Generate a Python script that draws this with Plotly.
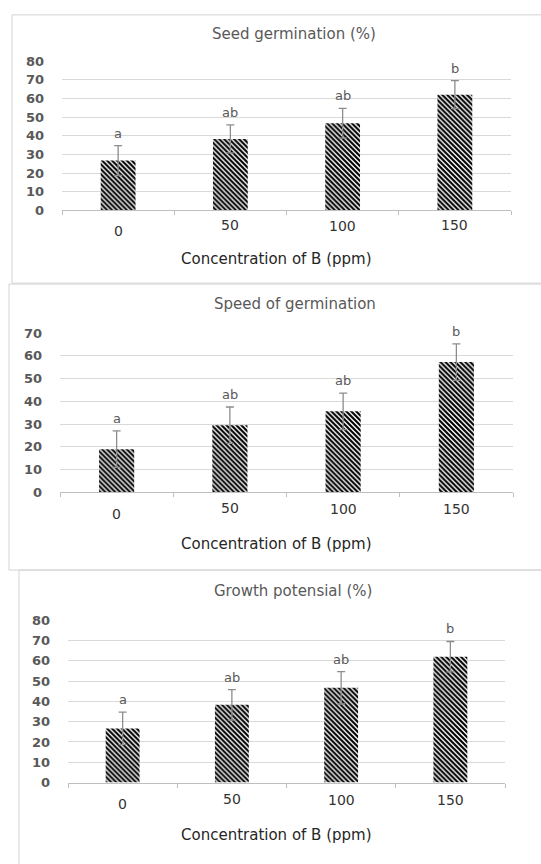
import plotly.graph_objects as go

# Boron concentration treatments (ppm)
concentrations = ["0", "50", "100", "150"]

# Seed germination (%)
seed_germination = [26.7, 38.3, 46.7, 62.0]
seed_germination_err = [8.0, 7.5, 8.0, 7.5]
seed_germination_letters = ["a", "ab", "ab", "b"]

# Speed of germination
germination_speed = [19.0, 29.5, 35.6, 57.2]
germination_speed_err = [8.0, 8.0, 8.0, 8.0]
germination_speed_letters = ["a", "ab", "ab", "b"]

# Growth potensial (%)
growth_potential = [26.7, 38.3, 46.7, 62.0]
growth_potential_err = [8.0, 7.5, 8.0, 7.5]
growth_potential_letters = ["a", "ab", "ab", "b"]

y_ticks_80 = [0, 10, 20, 30, 40, 50, 60, 70, 80]
y_ticks_70 = [0, 10, 20, 30, 40, 50, 60, 70]

W, H = 541, 864


def px_x(v):
    return v / W


def px_y(v):
    return 1 - v / H


panels = [
    dict(title="Seed germination (%)", values=seed_germination, err=seed_germination_err,
         letters=seed_germination_letters, ymax=80, ticks=y_ticks_80,
         plot=(62, 511, 55, 207), box=(12, 8, 560, 281), title_xy=(294, 27),
         xtitle_xy=(276, 256), drops=[21, 15, 16, 15]),
    dict(title="Speed of germination", values=germination_speed, err=germination_speed_err,
         letters=germination_speed_letters, ymax=70, ticks=y_ticks_70,
         plot=(60, 513, 331.7, 494), box=(9, 282, 560, 573), title_xy=(295, 302),
         xtitle_xy=(276, 546), drops=[22, 16, 17, 17]),
    dict(title="Growth potensial (%)", values=growth_potential, err=growth_potential_err,
         letters=growth_potential_letters, ymax=80, ticks=y_ticks_80,
         plot=(68, 505, 624, 789.3), box=(19, 573, 560, 880), title_xy=(293, 594),
         xtitle_xy=(276, 843), drops=[22, 16.5, 18, 17.5]),
]

fig = go.Figure()
shapes = []
annotations = []
layout = {}

for i, p in enumerate(panels, start=1):
    xa = "x" if i == 1 else f"x{i}"
    ya = "y" if i == 1 else f"y{i}"
    fig.add_trace(go.Bar(
        x=concentrations, y=p["values"], width=0.31,
        xaxis=xa, yaxis=ya,
        marker=dict(color="white", line=dict(width=0),
                    pattern=dict(shape="\\", fgcolor="#000000", bgcolor="#ffffff",
                                 fgopacity=1, fillmode="replace",
                                 size=3.5, solidity=0.6)),
        error_y=dict(type="data", array=p["err"], visible=True,
                     color="#8c8c8c", thickness=1.3, width=4),
        showlegend=False, hoverinfo="skip",
    ))
    x0, x1, yt, yb = p["plot"]
    layout[f"xaxis{'' if i == 1 else i}"] = dict(
        domain=[px_x(x0), px_x(x1)], anchor=ya, type="category",
        range=[-0.5, 3.5], showgrid=False, showline=True, linecolor="#bfbfbf",
        linewidth=1, ticks="outside", tickson="boundaries", ticklen=4,
        tickcolor="#bfbfbf", showticklabels=False, zeroline=False, fixedrange=True,
    )
    layout[f"yaxis{'' if i == 1 else i}"] = dict(
        domain=[px_y(yb), px_y(yt)], anchor=xa, range=[0, p["ymax"]],
        tickvals=p["ticks"], showgrid=True, gridcolor="#d9d9d9", gridwidth=1,
        showline=False, zeroline=False, ticks="", ticklabelstandoff=17,
        tickfont=dict(family="DejaVu Sans", size=13, color="#595959", weight="bold"),
        fixedrange=True,
    )
    # panel frame
    bx0, by0, bx1, by1 = p["box"]
    shapes.append(dict(type="rect", xref="paper", yref="paper",
                       x0=px_x(bx0), x1=px_x(bx1), y0=px_y(by1), y1=px_y(by0),
                       line=dict(color="#d4d4d4", width=1), fillcolor="rgba(0,0,0,0)",
                       layer="below"))
    # chart title
    tx, ty = p["title_xy"]
    annotations.append(dict(text=p["title"], xref="paper", yref="paper",
                            x=px_x(tx), y=px_y(ty), xanchor="center", yanchor="middle",
                            showarrow=False,
                            font=dict(family="DejaVu Sans", size=15, color="#595959")))
    # axis title
    ax, ay = p["xtitle_xy"]
    annotations.append(dict(text="Concentration of B (ppm)", xref="paper", yref="paper",
                            x=px_x(ax), y=px_y(ay), xanchor="center", yanchor="middle",
                            showarrow=False,
                            font=dict(family="DejaVu Sans", size=15, color="#262626")))
    # category labels, slightly staggered below the axis
    for k, (cat, drop) in enumerate(zip(concentrations, p["drops"])):
        annotations.append(dict(text=cat, xref=xa, yref="paper", x=k,
                                y=px_y(yb + drop), xanchor="center", yanchor="middle",
                                showarrow=False,
                                font=dict(family="DejaVu Sans", size=14, color="#333333")))
    # significance letters above the error bars
    for k, (v, e, letter) in enumerate(zip(p["values"], p["err"], p["letters"])):
        annotations.append(dict(text=letter, xref=xa, yref=ya, x=k, y=v + e,
                                xanchor="center", yanchor="bottom", yshift=3,
                                showarrow=False,
                                font=dict(family="DejaVu Sans", size=13, color="#595959")))

fig.update_layout(
    width=W, height=H, margin=dict(l=0, r=0, t=0, b=0),
    paper_bgcolor="white", plot_bgcolor="white",
    shapes=shapes, annotations=annotations, bargap=0.69, **layout,
)

fig.write_html("out.html")
